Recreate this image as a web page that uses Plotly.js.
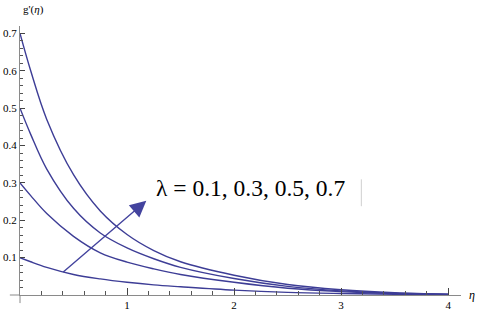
<!DOCTYPE html>
<html><head><meta charset="utf-8">
<script src="https://cdn.plot.ly/plotly-3.0.1.min.js"></script>
<style>html,body{margin:0;padding:0;background:#fff}#c{width:480px;height:316px}</style>
</head><body><div id="c"></div>
<script>
const eta = [0, 0.1, 0.25, 0.5, 0.75, 1, 1.25, 1.5, 2, 2.5, 3, 3.5, 4];
const g07 = [0.70, 0.60, 0.47, 0.322, 0.225, 0.162, 0.119, 0.089, 0.053, 0.028, 0.014, 0.006, 0.002];
const g05 = [0.50, 0.43, 0.337, 0.232, 0.166, 0.126, 0.097, 0.074, 0.044, 0.023, 0.011, 0.005, 0.002];
const g03 = [0.30, 0.266, 0.218, 0.157, 0.113, 0.088, 0.070, 0.055, 0.034, 0.018, 0.009, 0.004, 0.001];
const g01 = [0.10, 0.089, 0.074, 0.055, 0.043, 0.034, 0.027, 0.022, 0.013, 0.007, 0.004, 0.002, 0.001];
const series = [g01, g03, g05, g07];
const xTicks = [1, 2, 3, 4];
const yTicks = [0.1, 0.2, 0.3, 0.4, 0.5, 0.6, 0.7];
const label = "λ = 0.1, 0.3, 0.5, 0.7";

const lineColor = '#3d3d96';
const traces = series.map(s => ({
  x: eta, y: s, type: 'scatter', mode: 'lines',
  line: {color: lineColor, width: 1.4, shape: 'spline', smoothing: 1},
  hoverinfo: 'skip', showlegend: false
}));

const axCol = '#8a8a8a';
const layout = {
  width: 480, height: 316,
  margin: {l: 20, r: 19, t: 26, b: 21},
  paper_bgcolor: '#fff', plot_bgcolor: '#fff',
  font: {family: 'Liberation Serif, serif', size: 11, color: '#000'},
  xaxis: {
    range: [0, 4.12], showgrid: false, zeroline: false,
    showline: true, linecolor: axCol, linewidth: 1,
    ticks: 'inside', ticklen: 7, tickcolor: '#444', tickwidth: 1,
    tickvals: xTicks, ticktext: xTicks.map(String),
    minor: {dtick: 0.2, ticks: 'inside', ticklen: 4, tickcolor: '#555', showgrid: false},
    tickfont: {family: 'Liberation Serif, serif', size: 11, color: '#000'}
  },
  yaxis: {
    range: [0, 0.72], showgrid: false, zeroline: false,
    showline: true, linecolor: axCol, linewidth: 1,
    ticks: 'inside', ticklen: 5, tickcolor: '#444', tickwidth: 1,
    tickvals: yTicks, ticktext: yTicks.map(v => v.toFixed(1)),
    minor: {dtick: 0.02, ticks: 'inside', ticklen: 3, tickcolor: '#555', showgrid: false},
    tickfont: {family: 'Liberation Serif, serif', size: 11, color: '#000'}
  },
  shapes: [
    {type: 'line', xref: 'paper', yref: 'paper', x0: -0.023, x1: 0, y0: 0, y1: 0, line: {color: axCol, width: 1}},
    {type: 'line', xref: 'paper', yref: 'paper', x0: 0, x1: 0, y0: -0.03, y1: 0, line: {color: axCol, width: 1}},
    {type: 'line', xref: 'paper', yref: 'paper', x0: 0.774, x1: 0.774, y0: 0.33, y1: 0.43, line: {color: '#cfcfcf', width: 1}}
  ],
  annotations: [
    {x: 1.18, y: 0.252, ax: 0.39, ay: 0.058, xref: 'x', yref: 'y', axref: 'x', ayref: 'y',
     showarrow: true, arrowhead: 2, arrowsize: 2.3, arrowwidth: 1.4, arrowcolor: '#43439e', text: ''},
    {x: 1.25, y: 0.287, xref: 'x', yref: 'y', xanchor: 'left', yanchor: 'middle', showarrow: false,
     text: label, font: {family: 'Liberation Serif, serif', size: 23.5, color: '#000'}},
    {x: 0.03, y: 1.0, xref: 'paper', yref: 'paper', xanchor: 'center', yanchor: 'bottom', yshift: 8, showarrow: false,
     text: "g'(<i>η</i>)", font: {family: 'Liberation Serif, serif', size: 11, color: '#000'}},
    {x: 1.0, y: 0, xref: 'paper', yref: 'paper', xanchor: 'left', yanchor: 'middle', xshift: 6, showarrow: false,
     text: "<i>η</i>", font: {family: 'Liberation Serif, serif', size: 12, color: '#000'}}
  ]
};
Plotly.newPlot('c', traces, layout, {staticPlot: true, displayModeBar: false});
</script></body></html>
